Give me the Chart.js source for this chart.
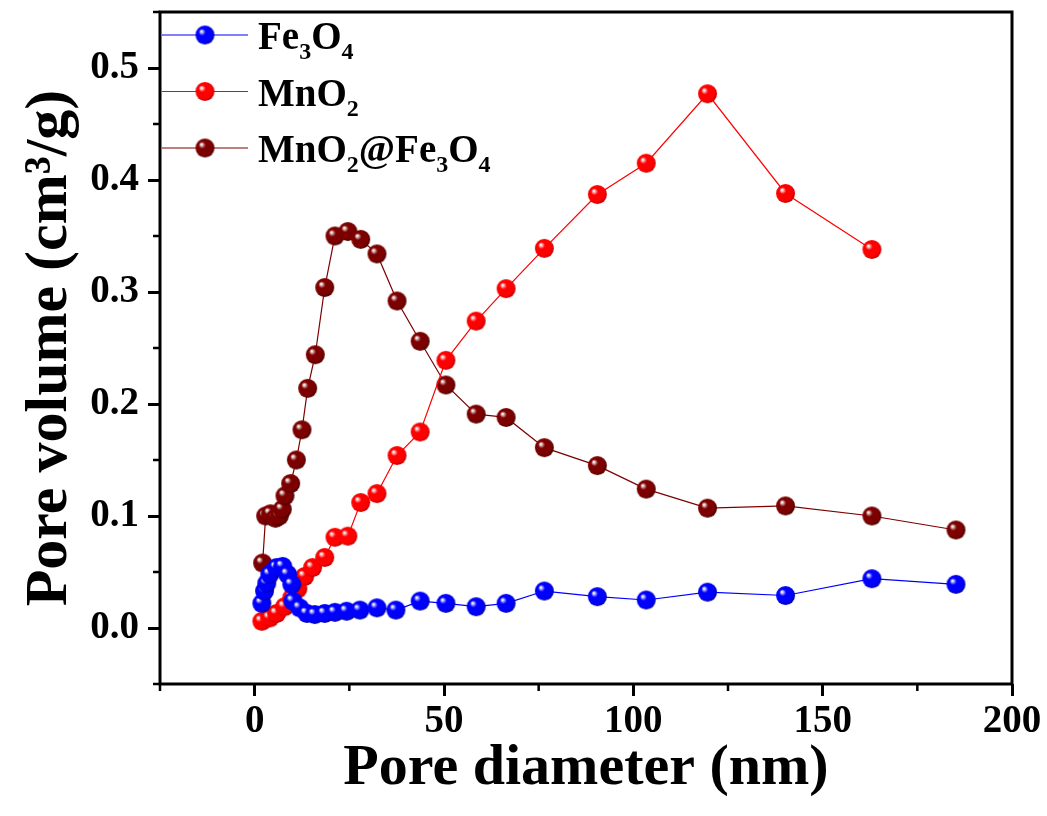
<!DOCTYPE html>
<html lang="en">
<head>
  <meta charset="UTF-8">
  <title>Pore volume vs pore diameter</title>
  <script src="https://cdn.jsdelivr.net/npm/chart.js"></script>
  <style>
    body { margin: 0; background: #ffffff; }
    .chart-box { width: 1047px; height: 816px; }
  </style>
</head>
<body>
  <div class="chart-box"><canvas id="poreChart" width="1047" height="816"></canvas></div>
  <script>
    // Values (x = pore diameter in nm, y = pore volume in cm3/g)
    const feX = [1.9, 2.6, 3.2, 4.0, 5.8, 7.4, 8.7, 9.8, 10.1, 11.9, 13.8, 15.9, 18.5, 21.2, 24.3, 27.8, 32.3, 37.3, 43.7, 50.5, 58.5, 66.4, 76.5, 90.5, 103.4, 119.6, 140.2, 163.0, 185.2];
    const feY = [0.022, 0.033, 0.040, 0.048, 0.054, 0.055, 0.048, 0.039, 0.024, 0.018, 0.013, 0.012, 0.013, 0.014, 0.015, 0.016, 0.018, 0.016, 0.024, 0.022, 0.019, 0.022, 0.033, 0.028, 0.025, 0.032, 0.029, 0.044, 0.039];

    const mnX = [1.9, 4.0, 5.8, 7.9, 9.8, 11.4, 13.2, 15.3, 18.5, 21.2, 24.6, 28.0, 32.3, 37.6, 43.7, 50.5, 58.5, 66.4, 76.5, 90.5, 103.4, 119.6, 140.2, 163.0];
    const mnY = [0.006, 0.009, 0.013, 0.019, 0.027, 0.035, 0.046, 0.054, 0.063, 0.081, 0.082, 0.112, 0.120, 0.154, 0.175, 0.239, 0.274, 0.303, 0.339, 0.387, 0.415, 0.477, 0.388, 0.338];

    const compX = [2.1, 2.9, 4.2, 5.5, 6.5, 7.3, 8.0, 9.5, 11.0, 12.5, 14.0, 16.0, 18.5, 21.2, 24.6, 28.0, 32.3, 37.6, 43.7, 50.5, 58.5, 66.4, 76.5, 90.5, 103.4, 119.6, 140.2, 163.0, 185.2];
    const compY = [0.058, 0.100, 0.102, 0.098, 0.100, 0.106, 0.118, 0.129, 0.150, 0.177, 0.214, 0.244, 0.304, 0.350, 0.354, 0.347, 0.334, 0.292, 0.256, 0.217, 0.191, 0.188, 0.161, 0.145, 0.124, 0.107, 0.109, 0.100, 0.0875];

    const xMajorTicks = [0, 50, 100, 150, 200];
    const xMinorTicks = [-25, 25, 75, 125, 175];
    const yMajorTicks = [0.0, 0.1, 0.2, 0.3, 0.4, 0.5];
    const yMinorTicks = [-0.05, 0.05, 0.15, 0.25, 0.35, 0.45, 0.55];

    // legend text pieces: [text, isSubscript]
    const legendParts = [
      [['Fe', false], ['3', true], ['O', false], ['4', true]],
      [['MnO', false], ['2', true]],
      [['MnO', false], ['2', true], ['@Fe', false], ['3', true], ['O', false], ['4', true]]
    ];

    const SERIF = '"Liberation Serif", "Times New Roman", serif';

    // glossy sphere marker like the Origin "ball" symbol
    function makeBall(color, dark, r) {
      const c = document.createElement('canvas');
      const s = Math.ceil(r * 2 + 2);
      c.width = c.height = s;
      const g = c.getContext('2d');
      const cx = s / 2, cy = s / 2;
      const grad = g.createRadialGradient(cx - r * 0.38, cy - r * 0.38, r * 0.05, cx - r * 0.1, cy - r * 0.1, r * 1.1);
      grad.addColorStop(0, '#ffffff');
      grad.addColorStop(0.3, color);
      grad.addColorStop(0.8, color);
      grad.addColorStop(1, dark);
      g.fillStyle = grad;
      g.beginPath();
      g.arc(cx, cy, r, 0, Math.PI * 2);
      g.fill();
      return c;
    }

    const blueBall = makeBall('#0000ff', '#0000a8', 9.5);
    const redBall = makeBall('#ff0000', '#c40000', 9.5);
    const brownBall = makeBall('#7d0000', '#4a0000', 9.5);

    function toPoints(xs, ys) {
      return xs.map((x, i) => ({ x: x, y: ys[i] }));
    }

    function drawRich(ctx, parts, x, y, size) {
      parts.forEach(([txt, sub]) => {
        const fs = sub ? Math.round(size * 0.62) : size;
        ctx.font = 'bold ' + fs + 'px ' + SERIF;
        ctx.fillText(txt, x, sub ? y + size * 0.26 : y);
        x += ctx.measureText(txt).width;
      });
    }

    // no automatic label padding, the plot box is placed by hand
    function noPad(s) {
      s.paddingTop = 0; s.paddingBottom = 0; s.paddingLeft = 0; s.paddingRight = 0;
    }

    const framePlugin = {
      id: 'frame',
      afterDraw(chart) {
        const ctx = chart.ctx;
        const a = chart.chartArea;
        const xs = chart.scales.x, ys = chart.scales.y;
        ctx.save();
        ctx.strokeStyle = '#000';
        ctx.lineWidth = 3;
        ctx.strokeRect(a.left, a.top, a.right - a.left, a.bottom - a.top);
        // minor ticks
        ctx.lineWidth = 2.5;
        ctx.beginPath();
        xMinorTicks.forEach(v => {
          const px = xs.getPixelForValue(v);
          ctx.moveTo(px, a.bottom);
          ctx.lineTo(px, a.bottom + 7);
        });
        yMinorTicks.forEach(v => {
          const py = ys.getPixelForValue(v);
          ctx.moveTo(a.left, py);
          ctx.lineTo(a.left - 7, py);
        });
        ctx.stroke();

        // legend
        const colors = ['#0000ff', '#ff0000', '#7d0000'];
        const balls = [blueBall, redBall, brownBall];
        ctx.fillStyle = '#000';
        ctx.textBaseline = 'alphabetic';
        legendParts.forEach((parts, i) => {
          const ry = a.top + 23 + i * 56.5;
          ctx.strokeStyle = colors[i];
          ctx.lineWidth = 1.2;
          ctx.beginPath();
          ctx.moveTo(a.left + 2, ry);
          ctx.lineTo(a.left + 88, ry);
          ctx.stroke();
          ctx.drawImage(balls[i], a.left + 45 - balls[i].width / 2, ry - balls[i].height / 2);
          drawRich(ctx, parts, a.left + 98, ry + 14, 39);
        });
        ctx.restore();
      }
    };

    new Chart(document.getElementById('poreChart'), {
      type: 'scatter',
      data: {
        datasets: [
          { label: 'Fe3O4', data: toPoints(feX, feY), showLine: true, borderColor: '#0000ff', borderWidth: 1.2, pointStyle: blueBall, pointRadius: 9.5 },
          { label: 'MnO2', data: toPoints(mnX, mnY), showLine: true, borderColor: '#ff0000', borderWidth: 1.2, pointStyle: redBall, pointRadius: 9.5 },
          { label: 'MnO2@Fe3O4', data: toPoints(compX, compY), showLine: true, borderColor: '#7d0000', borderWidth: 1.2, pointStyle: brownBall, pointRadius: 9.5 }
        ]
      },
      options: {
        responsive: false,
        animation: false,
        layout: { padding: { top: 12, right: 35, left: 0, bottom: 0 } },
        plugins: { legend: { display: false }, tooltip: { enabled: false } },
        scales: {
          x: {
            type: 'linear',
            min: -25,
            max: 200,
            afterFit: s => { s.height = 132; noPad(s); },
            afterBuildTicks: s => { s.ticks = xMajorTicks.map(v => ({ value: v })); },
            border: { display: false },
            grid: { drawOnChartArea: false, drawTicks: true, tickLength: 12, tickWidth: 3, tickColor: '#000' },
            ticks: { color: '#000', padding: 3, font: { family: SERIF, size: 39, weight: 'bold' } },
            title: {
              display: true,
              text: 'Pore diameter (nm)',
              color: '#000',
              padding: { top: 12, bottom: 12 },
              font: { family: SERIF, size: 58, weight: 'bold', lineHeight: 1.2 }
            }
          },
          y: {
            type: 'linear',
            min: -0.05,
            max: 0.55,
            afterFit: s => { s.width = 160; noPad(s); },
            afterBuildTicks: s => { s.ticks = yMajorTicks.map(v => ({ value: v })); },
            border: { display: false },
            grid: { drawOnChartArea: false, drawTicks: true, tickLength: 12, tickWidth: 3, tickColor: '#000' },
            ticks: { color: '#000', padding: 9, callback: v => v.toFixed(1), font: { family: SERIF, size: 39, weight: 'bold' } },
            title: {
              display: true,
              text: 'Pore volume (cm³/g)',
              color: '#000',
              padding: { top: 14, bottom: 14 },
              font: { family: SERIF, size: 60, weight: 'bold', lineHeight: 1.2 }
            }
          }
        }
      },
      plugins: [framePlugin]
    });
  </script>
</body>
</html>
